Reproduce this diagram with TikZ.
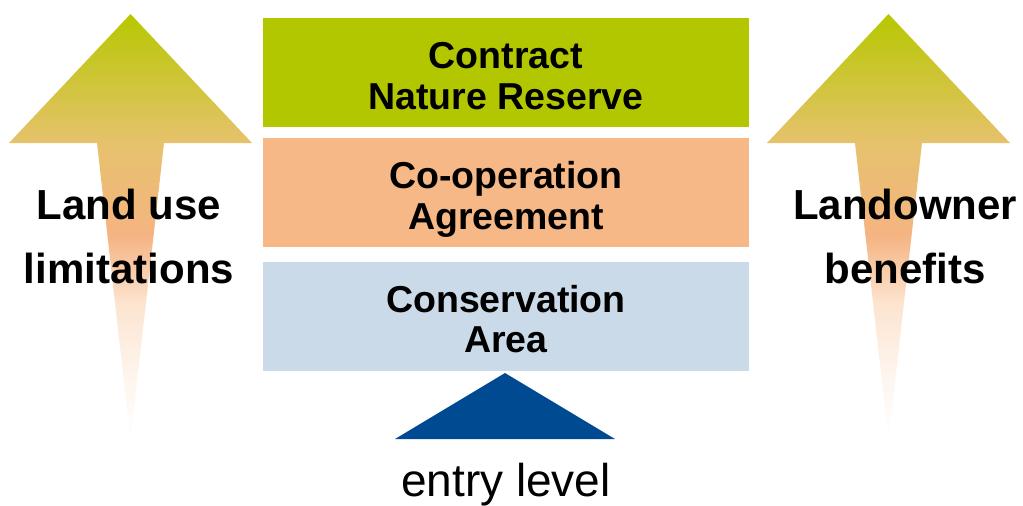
\documentclass[tikz,border=0pt]{standalone}
\usepackage{fontspec}
\setmainfont{Liberation Sans}
\usetikzlibrary{positioning}

\definecolor{reservegreen}{HTML}{B3C700}
\definecolor{agreeorange}{HTML}{F6B886}
\definecolor{areablue}{HTML}{CBDAE9}
\definecolor{entryblue}{HTML}{004A91}
\definecolor{apexgreen}{HTML}{B6C800}
\definecolor{headtan}{HTML}{E6C26C}
\definecolor{midorange}{HTML}{F5B482}
\definecolor{paleorange}{HTML}{FCE4D0}

\pgfdeclareverticalshading{risefade}{100bp}{color(0bp)=(white); color(25bp)=(white);
  color(33bp)=(paleorange!40!white); color(41bp)=(paleorange); color(49bp)=(midorange);
  color(60bp)=(headtan); color(75bp)=(apexgreen); color(100bp)=(apexgreen)}

\tikzset{
  tier/.style={rectangle, minimum width=486pt, minimum height=109pt, inner sep=0pt,
    align=center, text height=73.5pt, text depth=0pt, font=\bfseries\fontsize{37.5}{40.7}\selectfont},
  sidelabel/.style={align=center, text depth=0pt, inner sep=0pt,
    font=\bfseries\fontsize{42}{64}\selectfont}
}

\begin{document}
\begin{tikzpicture}[x=1pt, y=-1pt]
\useasboundingbox (0,0) rectangle (1023,506);

% RISING ARROWS
\shade[shading=risefade] (130.5,14) -- (252,143) -- (164,143) -- (130.5,440) -- (97,143) -- (9,143) -- cycle;
\shade[shading=risefade] (888.5,14) -- (1010,143) -- (922,143) -- (888.5,440) -- (855,143) -- (767,143) -- cycle;

% ARROW LABELS
\node[sidelabel] (limits) at (129,236.7) {Land use\\limitations};
\node[sidelabel] (benefits) at (905,236.7) {Landowner\\benefits};

% TIERS
\node[tier, fill=reservegreen] (reserve) at (506,72.5) {Contract\\Nature Reserve};
\node[tier, fill=agreeorange] (agreement) at (506,192.5) {Co-operation\\Agreement};
\node[tier, fill=areablue] (area) at (506,316) {Conservation\\Area};

% ENTRY LEVEL
\fill[entryblue] (505,373) -- (615,439) -- (395,439) -- cycle;
\node[anchor=base, inner sep=0pt, font=\fontsize{46}{56}\selectfont] (entry) at (506,496) {entry level};

\end{tikzpicture}
\end{document}
